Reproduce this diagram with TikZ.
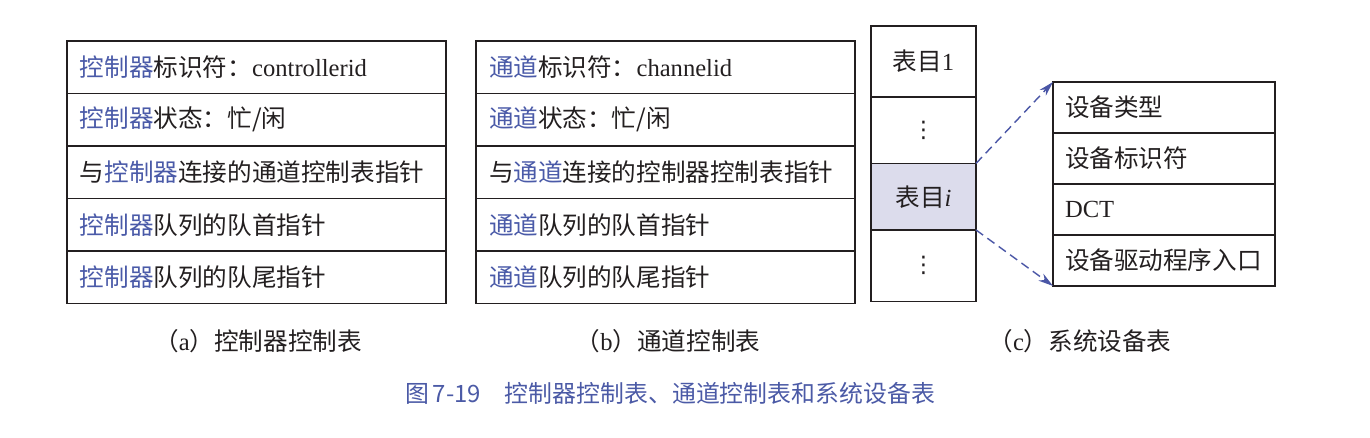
\documentclass[tikz,border=0pt]{standalone}
\usepackage{fontspec}
\setmainfont{Liberation Serif}
\newfontfamily\cjk{Noto Sans CJK SC}
\newfontfamily\symfont{DejaVu Sans}
\usetikzlibrary{positioning, arrows.meta}
\definecolor{clrborder}{HTML}{231F20}
\definecolor{clrtext}{HTML}{231F20}
\definecolor{clrkey}{HTML}{4A5AA8}
\definecolor{clrlink}{HTML}{4A56A6}
\definecolor{clrpick}{HTML}{DCDCEC}
\definecolor{clrtitle}{HTML}{4B5AA6}
\newcommand{\kzqword}{\textcolor{clrkey}{\cjk 控制器}}
\newcommand{\tdword}{\textcolor{clrkey}{\cjk 通道}}
\newcommand{\moredots}{{\symfont\fontsize{13pt}{15pt}\selectfont ⋮}}

\begin{document}
\begin{tikzpicture}[
    x=0.02cm, y=-0.02cm,
    >={Stealth[length=0.3cm, width=0.17cm]},
    every node/.style={font=\fontsize{14pt}{16pt}\selectfont, text=clrtext},
    row/.style={draw=clrborder, line width=0.8pt, outer sep=0pt, minimum width=7.58cm,
                minimum height=1.05cm, inner xsep=0.26cm, text width=7.06cm,
                align=left, anchor=north west},
    cell/.style={draw=clrborder, line width=0.8pt, outer sep=0pt, minimum width=2.1cm,
                 minimum height=1.33cm, align=center, anchor=north west},
    devrow/.style={draw=clrborder, line width=0.8pt, outer sep=0pt, minimum width=4.44cm,
                   minimum height=1.02cm, inner xsep=0.24cm, text width=3.96cm,
                   align=left, anchor=north west},
    link/.style={->, dashed, color=clrlink, line width=0.8pt, dash pattern=on 5pt off 3pt},
    caption/.style={font=\fontsize{14pt}{16pt}\selectfont},
]
\useasboundingbox (0,0) rectangle (1370,438);
% (a) controller table
\node[row] (a_1) at (67,41) {\kzqword{\cjk 标识符：}controllerid};
\node[row, below=0pt of a_1] (a_2) {\kzqword{\cjk 状态：忙/闲}};
\node[row, below=0pt of a_2] (a_3) {{\cjk 与}\kzqword{\cjk 连接的通道控制表指针}};
\node[row, below=0pt of a_3] (a_4) {\kzqword{\cjk 队列的队首指针}};
\node[row, below=0pt of a_4] (a_5) {\kzqword{\cjk 队列的队尾指针}};
% (b) channel table
\node[row] (b_1) at (476,41) {\tdword{\cjk 标识符：}channelid};
\node[row, below=0pt of b_1] (b_2) {\tdword{\cjk 状态：忙/闲}};
\node[row, below=0pt of b_2] (b_3) {{\cjk 与}\tdword{\cjk 连接的控制器控制表指针}};
\node[row, below=0pt of b_3] (b_4) {\tdword{\cjk 队列的队首指针}};
\node[row, below=0pt of b_4] (b_5) {\tdword{\cjk 队列的队尾指针}};
% (c) system device table
\node[cell, minimum height=1.42cm] (c_1) at (871,26) {{\cjk 表目}1};
\node[cell, below=0pt of c_1] (c_2) {\moredots};
\node[cell, fill=clrpick, below=0pt of c_2] (c_3) {{\cjk 表目}\textit{i}};
\node[cell, minimum height=1.43cm, below=0pt of c_3] (c_4) {\moredots};
\node[devrow] (d_1) at (1053,82) {\cjk 设备类型};
\node[devrow, below=0pt of d_1] (d_2) {\cjk 设备标识符};
\node[devrow, below=0pt of d_2] (d_3) {DCT};
\node[devrow, below=0pt of d_3] (d_4) {\cjk 设备驱动程序入口};
\draw[link] (c_3.north east) -- (d_1.north west);
\draw[link] (c_3.south east) -- (d_4.south west);
% captions
\node[caption] (cap_a) at (258,341) {{\cjk （}a{\cjk ）控制器控制表}};
\node[caption] (cap_b) at (668,341) {{\cjk （}b{\cjk ）通道控制表}};
\node[caption] (cap_c) at (1080,341) {{\cjk （}c{\cjk ）系统设备表}};
\node[font=\cjk\fontsize{13.6pt}{15pt}\selectfont, text=clrtitle] (title) at (670,393)
    {图\,7-19\quad 控制器控制表、通道控制表和系统设备表};
\end{tikzpicture}
\end{document}
